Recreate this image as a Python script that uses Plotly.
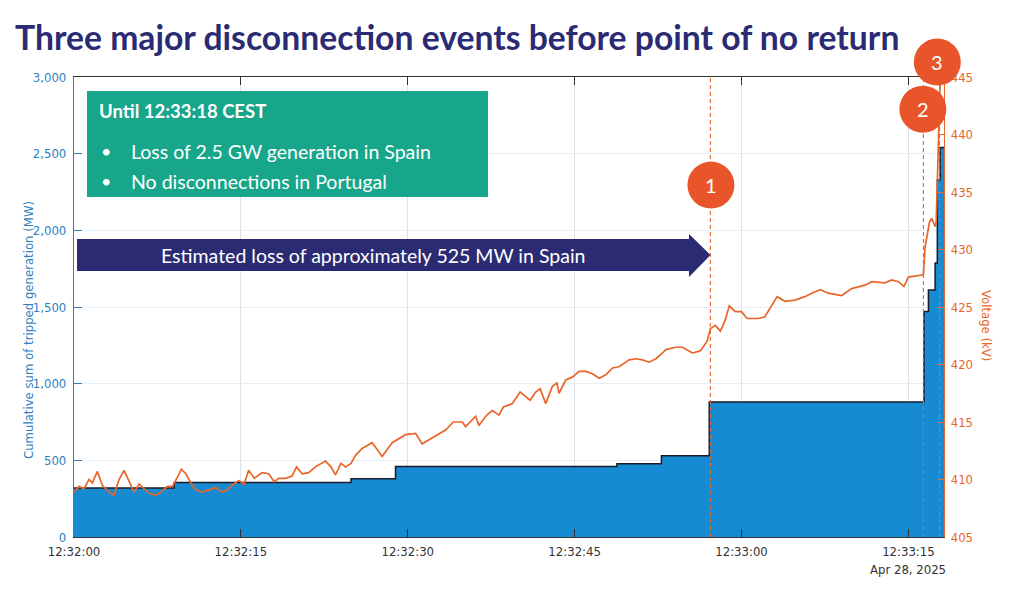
import plotly.graph_objects as go
import pandas as pd

# ---------------- data ----------------
base_time = "2025-04-28 12:32:00"
# cumulative tripped generation (MW), step values; seconds after base_time
mw_seconds = [0, 9.0, 24.9, 28.9, 48.8, 52.8, 57.1, 76.4, 76.8, 77.4, 77.6, 77.85, 78.2]
mw_values = [320, 355, 380, 460, 478, 530, 880, 1470, 1611, 1787, 2330, 2540, 2540]

# voltage (kV); seconds after base_time
kv_seconds = [
    0.0, 0.45, 0.9, 1.35, 1.65, 2.1, 2.55, 3.15, 3.6, 4.05, 4.5, 4.95, 5.4, 5.85, 6.3, 6.75,
    7.35, 7.8, 8.4, 8.85, 9.3, 9.65, 10.05, 10.5, 10.95, 11.55, 12.15, 12.75, 13.3, 13.8,
    14.2, 14.8, 15.3, 15.7, 16.2, 16.6, 16.9, 17.5, 18.0, 18.4, 19.0, 19.6, 20.0, 20.5,
    21.1, 21.7, 22.2, 22.6, 23.1, 23.5, 24.0, 24.4, 24.9, 25.3, 25.9, 26.8, 27.25, 27.7,
    28.15, 28.6, 29.8, 30.7, 31.3, 32.2, 32.8, 33.4, 34.1, 34.9, 35.2, 36.1, 36.4, 37.1,
    37.6, 38.2, 38.6, 39.4, 40.1, 40.6, 41.0, 41.5, 41.9, 42.4, 43.0, 43.4, 43.6, 44.2,
    44.8, 45.4, 46.0, 46.6, 47.2, 47.8, 48.4, 49.0, 49.9, 50.5, 51.1, 51.7, 52.3, 52.9,
    53.2, 54.1, 54.7, 55.6, 56.3, 56.9, 57.2, 57.65, 58.1, 58.55, 58.9, 59.45, 60.0, 60.5,
    61.5, 62.1, 62.6, 63.2, 63.9, 64.8, 65.7, 66.3, 67.1, 67.8, 69.0, 69.9, 71.1, 71.7,
    72.9, 73.5, 74.1, 74.6, 75.0, 76.1, 76.35, 76.5, 76.9, 77.1, 77.4, 77.5, 77.75, 77.85,
]
kv_values = [
    408.9, 409.4, 409.2, 410.0, 409.7, 410.7, 409.5, 408.9, 408.65, 410.0, 410.8, 409.8, 408.9, 409.6, 409.2, 408.8,
    408.65, 408.9, 409.4, 409.4, 410.2, 410.9, 410.5, 409.7, 409.1, 408.9, 409.1, 409.3, 408.9, 409.1,
    409.5, 409.9, 409.6, 410.8, 410.1, 410.4, 410.6, 410.5, 409.8, 410.1, 410.1, 410.3, 411.1, 410.5,
    410.6, 411.1, 411.4, 411.6, 411.1, 410.4, 411.4, 411.1, 411.4, 412.1, 412.7, 413.2, 412.6, 412.0,
    412.6, 413.2, 413.9, 414.0, 413.1, 413.6, 414.0, 414.3, 415.0, 415.0, 414.6, 415.5, 414.7, 415.6,
    416.0, 415.6, 416.3, 416.6, 417.6, 417.2, 416.9, 417.6, 417.9, 416.6, 418.1, 418.4, 417.5, 418.65,
    418.9, 419.4, 419.4, 419.2, 418.8, 419.1, 419.7, 419.8, 420.4, 420.5, 420.4, 420.2, 420.5, 421.0,
    421.3, 421.5, 421.5, 421.0, 421.2, 422.0, 423.1, 423.4, 422.9, 423.9, 425.1, 424.6, 424.6, 424.0,
    424.0, 424.15, 425.0, 425.9, 425.5, 425.6, 425.9, 426.2, 426.5, 426.2, 426.0, 426.6, 426.9, 427.2,
    427.1, 427.35, 427.2, 426.8, 427.6, 427.8, 427.8, 430.2, 432.4, 432.7, 432.0, 432.4, 440.4, 444.5,
]

# disconnection events
event_seconds = [57.2, 76.35, 77.8]
event_labels = ["1", "2", "3"]
circle_seconds = [57.25, 76.3, 77.6]
circle_kv = [435.6, 442.2, 446.3]

x_range_seconds = [0, 78.2]
mw_range = [0, 3000]
kv_range = [405, 445]

title_text = "Three major disconnection events before point of no return"
box_title = "Until 12:33:18 CEST"
box_bullets = ["Loss of 2.5 GW generation in Spain", "No disconnections in Portugal"]
arrow_text = "Estimated loss of approximately 525 MW in Spain"
left_title = "Cumulative sum of tripped generation (MW)"
right_title = "Voltage (kV)"
date_label = "Apr 28, 2025"

# ---------------- helpers ----------------
t0 = pd.Timestamp(base_time)


def ts(sec_list):
    return [t0 + pd.Timedelta(seconds=s) for s in sec_list]


W, H = 1024, 600
L, R, T, B = 74, 80, 77, 63
PW, PH = W - L - R, H - T - B


def px(x):
    return (x - L) / PW


def py(y):
    return (H - B - y) / PH


def sec_to_paper(s):
    return (s - x_range_seconds[0]) / (x_range_seconds[1] - x_range_seconds[0])


def kv_to_paper(v):
    return (v - kv_range[0]) / (kv_range[1] - kv_range[0])


BLUE_FILL = "#168bd2"
AXIS_BLUE = "#2f7fbf"
ORANGE = "#e8662a"
CIRCLE = "#e8552a"
NAVY = "#2b2b73"
GREEN = "#17a68a"
TICKFONT = "Liberation Sans Narrow, DejaVu Sans Condensed, Roboto, sans-serif"
TEXTFONT = "Lato, Open Sans, sans-serif"

fig = go.Figure()

fig.add_trace(go.Scatter(
    x=ts(mw_seconds), y=mw_values, mode="lines", line_shape="hv",
    line=dict(color="#1a1a2a", width=1.5), fill="tozeroy", fillcolor=BLUE_FILL,
    yaxis="y", hoverinfo="skip", showlegend=False,
))

fig.add_trace(go.Scatter(
    x=ts(kv_seconds), y=kv_values, mode="lines",
    line=dict(color=ORANGE, width=1.7), yaxis="y2", showlegend=False,
))

shapes = []
for s in event_seconds:
    shapes.append(dict(type="line", xref="x", yref="paper", x0=ts([s])[0], x1=ts([s])[0],
                       y0=0, y1=1, line=dict(color=ORANGE, width=1.1, dash="4px,3px"), layer="above"))

# green info box
shapes.append(dict(type="rect", xref="paper", yref="paper", x0=px(87), x1=px(488),
                   y0=py(197), y1=py(91), fillcolor=GREEN, line=dict(width=0), layer="above"))

# navy arrow
ax0, ax1, axh = 77, 710.5, 689
ay_top, ay_bot, ah_top, ah_bot, ay_mid = 239, 271, 234, 277, 255
path = (f"M {px(ax0)},{py(ay_top)} L {px(axh)},{py(ay_top)} L {px(axh)},{py(ah_top)} "
        f"L {px(ax1)},{py(ay_mid)} L {px(axh)},{py(ah_bot)} L {px(axh)},{py(ay_bot)} "
        f"L {px(ax0)},{py(ay_bot)} Z")
shapes.append(dict(type="path", xref="paper", yref="paper", path=path,
                   fillcolor=NAVY, line=dict(width=0), layer="above"))

annotations = []
# event circles with numbers
for s, v, lab in zip(circle_seconds, circle_kv, event_labels):
    xp, yp = sec_to_paper(s), kv_to_paper(v)
    shapes.append(dict(type="circle", xref="paper", yref="paper", xsizemode="pixel", ysizemode="pixel",
                       xanchor=xp, yanchor=yp, x0=-23.5, x1=23.5, y0=-23.5, y1=23.5,
                       fillcolor=CIRCLE, line=dict(width=0), layer="above"))
    annotations.append(dict(text=lab, xref="paper", yref="paper", x=xp, y=yp, xanchor="center",
                            yanchor="middle", showarrow=False,
                            font=dict(family=TEXTFONT, size=20, color="white")))

annotations += [
    dict(text=box_title, xref="paper", yref="paper", x=px(97), y=py(111), xanchor="left",
         yanchor="middle", showarrow=False, font=dict(family=TEXTFONT, size=18.5, color="white", weight="bold")),
    dict(text=arrow_text, xref="paper", yref="paper", x=px(373), y=py(255), xanchor="center",
         yanchor="middle", showarrow=False, font=dict(family=TEXTFONT, size=19.5, color="white")),
    dict(text=left_title, xref="paper", yref="paper", x=px(28), y=py(330), xanchor="center",
         yanchor="middle", textangle=-90, showarrow=False,
         font=dict(family=TICKFONT, size=13, color=AXIS_BLUE)),
    dict(text=right_title, xref="paper", yref="paper", x=px(987), y=py(325), xanchor="center",
         yanchor="middle", textangle=90, showarrow=False,
         font=dict(family=TICKFONT, size=13, color=ORANGE)),
    dict(text=date_label, xref="x", yref="paper", x=ts([75])[0], y=py(569), xanchor="center",
         yanchor="middle", showarrow=False, font=dict(family=TICKFONT, size=13, color="#333333")),
]
for i, b in enumerate(box_bullets):
    yy = 151 + 30 * i
    annotations.append(dict(text="\u2022", xref="paper", yref="paper", x=px(99), y=py(yy),
                            xanchor="left", yanchor="middle", showarrow=False,
                            font=dict(family=TEXTFONT, size=18, color="white")))
    annotations.append(dict(text=b, xref="paper", yref="paper", x=px(129), y=py(yy),
                            xanchor="left", yanchor="middle", showarrow=False,
                            font=dict(family=TEXTFONT, size=19.5, color="white")))

fig.update_layout(
    width=W, height=H,
    margin=dict(l=L, r=R, t=T, b=B),
    paper_bgcolor="white", plot_bgcolor="white",
    showlegend=False,
    title=dict(text=title_text, xref="container", yref="container", x=15 / W, y=1 - 38 / H,
               xanchor="left", yanchor="middle",
               font=dict(family=TEXTFONT, size=33.7, color=NAVY, weight="bold")),
    xaxis=dict(
        type="date", range=ts(x_range_seconds), tickformat="%H:%M:%S", dtick=15000,
        tick0=base_time, ticks="inside", ticklen=8, tickcolor="#333333",
        showgrid=True, gridcolor="#dde3ea", gridwidth=1,
        showline=True, linecolor="#333333", linewidth=1.2, mirror="ticks",
        tickfont=dict(family=TICKFONT, size=13, color="#333333"),
        zeroline=False, ticklabelstandoff=2,
    ),
    yaxis=dict(
        range=mw_range, dtick=500, tickformat=",d", ticks="inside", ticklen=8,
        tickcolor=AXIS_BLUE, showline=True, linecolor=AXIS_BLUE, linewidth=1.2,
        showgrid=True, gridcolor="#e6eef5", gridwidth=1, zeroline=False,
        tickfont=dict(family=TICKFONT, size=13, color=AXIS_BLUE), ticklabelstandoff=4,
    ),
    yaxis2=dict(
        range=kv_range, dtick=5, overlaying="y", side="right", ticks="inside", ticklen=6,
        tickcolor=ORANGE, showline=True, linecolor=ORANGE, linewidth=1.2,
        showgrid=False, zeroline=False,
        tickfont=dict(family=TICKFONT, size=13, color=ORANGE), ticklabelstandoff=3,
    ),
    shapes=shapes,
    annotations=annotations,
)

fig.write_html("out.html")
